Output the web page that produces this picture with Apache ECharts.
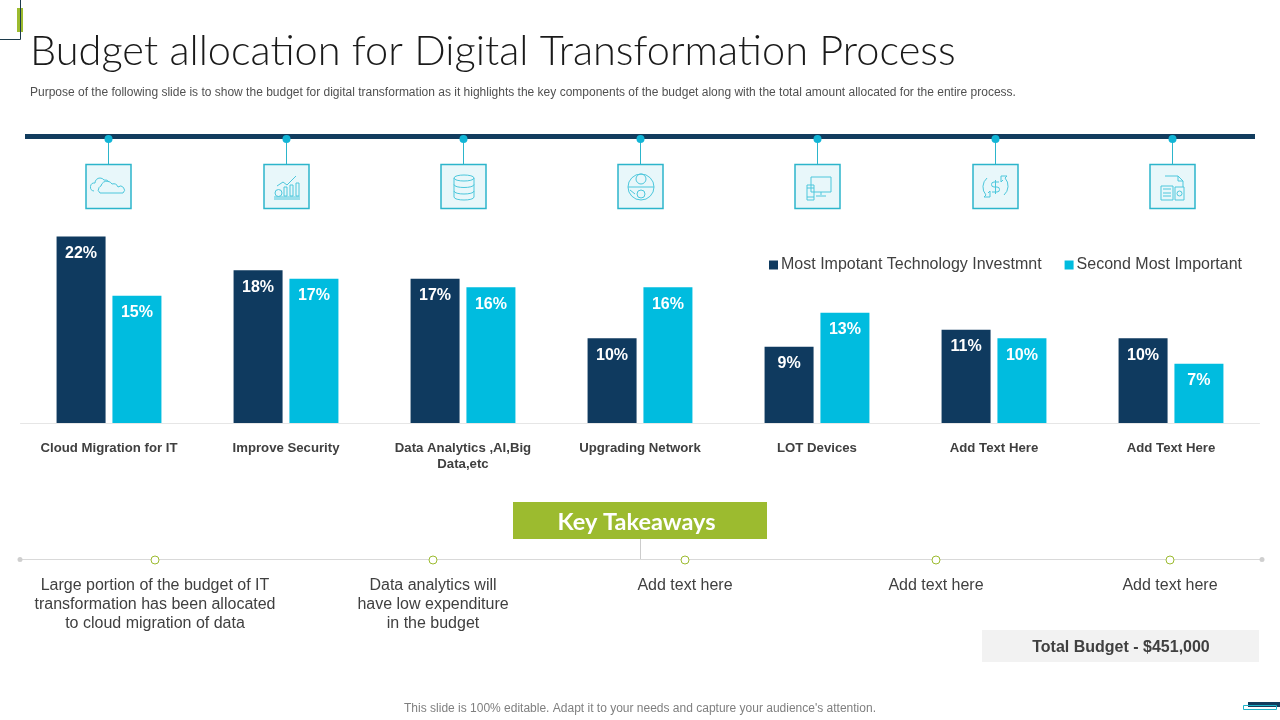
<!DOCTYPE html>
<html>
<head>
<meta charset="utf-8">
<style>html,body{margin:0;padding:0;background:#fff}#main{width:1280px;height:720px}</style>
<script src="https://cdn.jsdelivr.net/npm/echarts@6/dist/echarts.min.js"></script>
</head>
<body>
<div id="main"></div>
<script>
var categories = ['Cloud Migration for IT', 'Improve Security', 'Data Analytics ,AI,Big\nData,etc', 'Upgrading Network', 'LOT Devices', 'Add Text Here', 'Add Text Here'];
var mostImportant = [22, 18, 17, 10, 9, 11, 10];
var secondImportant = [15, 17, 16, 16, 13, 10, 7];
var seriesNames = ['Most Impotant Technology Investmnt', 'Second Most Important'];
var takeaways = ['Large portion of the budget of IT\ntransformation has been allocated\nto cloud migration of data', 'Data analytics will\nhave low expenditure\nin the budget', 'Add text here', 'Add text here', 'Add text here'];
var takeawayX = [155, 433, 685, 936, 1170];
var iconX = [108, 286, 463, 640, 817, 995, 1172];

var DARK = '#0f3a5f', CYAN = '#00bcdf', TEAL = '#2cb5cb', GREEN = '#9cbb2f', TEXT = '#404040';

// icons are drawn in a 45x45 box
var iconPaths = [
  'M8 27a4 4 0 0 1 1-8 5 5 0 0 1 9-3 5 5 0 0 1 5 2M14 29a4 4 0 0 1 1-7 6 6 0 0 1 11-2 5 5 0 0 1 6 3 3 3 0 0 1 5 6z',
  'M10 33h26M10 35h26M20 32V23h3v9zM26 32V21h3v11zM32 32V19h3v13zM18 29a3.5 3.5 0 1 1-7 0 3.5 3.5 0 1 1 7 0zM13 22l6-4 4 3 9-9',
  'M13 14c0-4 20-4 20 0v19c0 4-20 4-20 0zM13 14c0 4 20 4 20 0M13 20.5c0 4 20 4 20 0M13 27c0 4 20 4 20 0',
  'M10 23a13 13 0 1 1 26 0 13 13 0 1 1-26 0zM10 23h26M23 10a5 5 0 1 1 0 10 5 5 0 1 1 0-10zM23 26a4 4 0 1 1 0 8 4 4 0 1 1 0-8zM17 30l-5-4',
  'M16 13h20v15H16zM26 28v3M21 32h10M12 21h7v15h-7zM12 24h7M12 33h7',
  'M14 14a12 12 0 0 0-1 17l-2 2h6v-6l-2 2M31 31a12 12 0 0 0 1-17l2-2h-6v6l2-2M26 18h-5a2 2 0 0 0 0 5h3a2 2 0 0 1 0 5h-5M22.5 16v14',
  'M15 12h13l5 5v6M28 12v5h5M11 22h12v14H11zM13 25h8M13 29h8M13 32h8M25 23h9v13h-9zM29.5 27a2.5 2.5 0 1 1 0 5 2.5 2.5 0 1 1 0-5z'
];
iconPaths.forEach(function (p, i) {
  echarts.graphic.registerShape('slideIcon' + i, echarts.graphic.extendPath(p, {}));
});

function txt(x, y, text, size, color, opts) {
  opts = opts || {};
  return {
    type: 'text', x: x, y: y, silent: true,
    style: {
      text: text, fill: color,
      font: (opts.weight || 'normal') + ' ' + size + 'px ' + (opts.family || '"Liberation Sans"'),
      textAlign: opts.align || 'center', textVerticalAlign: 'middle', lineHeight: opts.lineHeight
    }
  };
}
function rect(x, y, w, h, fill, stroke, lw) {
  return { type: 'rect', silent: true, shape: { x: x, y: y, width: w, height: h }, style: { fill: fill || 'none', stroke: stroke || 'none', lineWidth: lw || 0 } };
}
function line(x1, y1, x2, y2, color, lw) {
  return { type: 'line', silent: true, shape: { x1: x1, y1: y1, x2: x2, y2: y2 }, style: { stroke: color, lineWidth: lw } };
}
function dot(x, y, r, fill, stroke) {
  return { type: 'circle', silent: true, shape: { cx: x, cy: y, r: r }, style: { fill: fill, stroke: stroke || 'none', lineWidth: 1 } };
}

var deco = [];
// corner mark
deco.push(rect(17, 8, 6, 24, GREEN));
deco.push(line(20.5, 0, 20.5, 39.5, '#1c3a4a', 1));
deco.push(line(0, 39.5, 20.5, 39.5, '#1c3a4a', 1));
// header
deco.push(txt(30, 52, 'Budget allocation for Digital Transformation Process', 41.5, '#1a1a1a', { align: 'left', family: 'Lato', weight: '300' }));
deco.push(txt(30, 93, 'Purpose of the following slide is to show the budget for digital transformation as it highlights the key components of the budget along with the total amount allocated for the entire process.', 12, '#505050', { align: 'left' }));
// timeline with icons
deco.push(rect(25, 134, 1230, 5, '#123c5e'));
iconX.forEach(function (x, i) {
  deco.push(line(x + 0.5, 139, x + 0.5, 164, TEAL, 1));
  deco.push(dot(x + 0.5, 139, 4, '#12b5d6'));
  deco.push(rect(x - 22, 164.5, 45, 44, '#e8f7fa', TEAL, 1.5));
  deco.push({ type: 'slideIcon' + i, silent: true, x: x - 22, y: 164, style: { fill: 'none', stroke: '#4cc7dc', lineWidth: 1 } });
});
// key takeaways
deco.push(line(640.5, 539, 640.5, 559, '#cccccc', 1));
deco.push(line(20, 559.5, 1262, 559.5, '#d9d9d9', 1.2));
deco.push(dot(20, 559.5, 2.5, '#cfcfcf'));
deco.push(dot(1262, 559.5, 2.5, '#cfcfcf'));
deco.push(rect(513, 502, 254, 37, GREEN));
deco.push(txt(636.5, 522, 'Key Takeaways', 23.5, '#ffffff', { weight: 'bold', family: 'Lato' }));
takeawayX.forEach(function (x, i) {
  deco.push(dot(x, 560, 4, '#ffffff', GREEN));
  var rows = takeaways[i].split('\n').length;
  deco.push(txt(x, 586 + (rows - 1) * 9.5, takeaways[i], 16, TEXT, { lineHeight: 19 }));
});
// total
deco.push(rect(982, 630, 277, 32, '#f2f2f2'));
deco.push(txt(1121, 648, 'Total Budget - $451,000', 16, TEXT, { weight: 'bold' }));
// footer
deco.push(txt(640, 709, "This slide is 100% editable. Adapt it to your needs and capture your audience's attention.", 12, '#7f7f7f'));
deco.push(rect(1248, 702, 32, 5, '#123c5e'));
deco.push(rect(1243.5, 705.5, 33, 4, 'none', '#1fb3c9', 1));

var barLabel = {
  show: true, position: 'insideTop', distance: 9, color: '#fff', fontSize: 16, fontWeight: 'bold',
  fontFamily: 'Liberation Sans', formatter: '{c}%'
};

var myChart = echarts.init(document.getElementById('main'));
var option = {
  animation: false,
  backgroundColor: '#ffffff',
  textStyle: { fontFamily: 'Liberation Sans' },
  grid: { left: 20.5, right: 20.5, top: 211, height: 212, containLabel: false },
  legend: {
    top: 252, right: 33, itemWidth: 9, itemHeight: 9, itemGap: 23, icon: 'rect',
    textStyle: { fontSize: 16, color: TEXT, padding: [0, 0, 0, -2] },
    data: seriesNames
  },
  xAxis: {
    type: 'category', data: categories,
    axisLine: { lineStyle: { color: '#e6e6e6' } }, axisTick: { show: false },
    axisLabel: { interval: 0, color: TEXT, fontSize: 13.2, fontWeight: 'bold', margin: 17, lineHeight: 16 }
  },
  yAxis: { type: 'value', min: 0, max: 25, show: false, splitLine: { show: false } },
  series: [
    { name: seriesNames[0], type: 'bar', data: mostImportant, barWidth: 49, barGap: '14%', itemStyle: { color: DARK }, label: barLabel },
    { name: seriesNames[1], type: 'bar', data: secondImportant, barWidth: 49, itemStyle: { color: CYAN }, label: barLabel }
  ],
  graphic: { elements: deco }
};
myChart.setOption(option);
</script>
</body>
</html>
